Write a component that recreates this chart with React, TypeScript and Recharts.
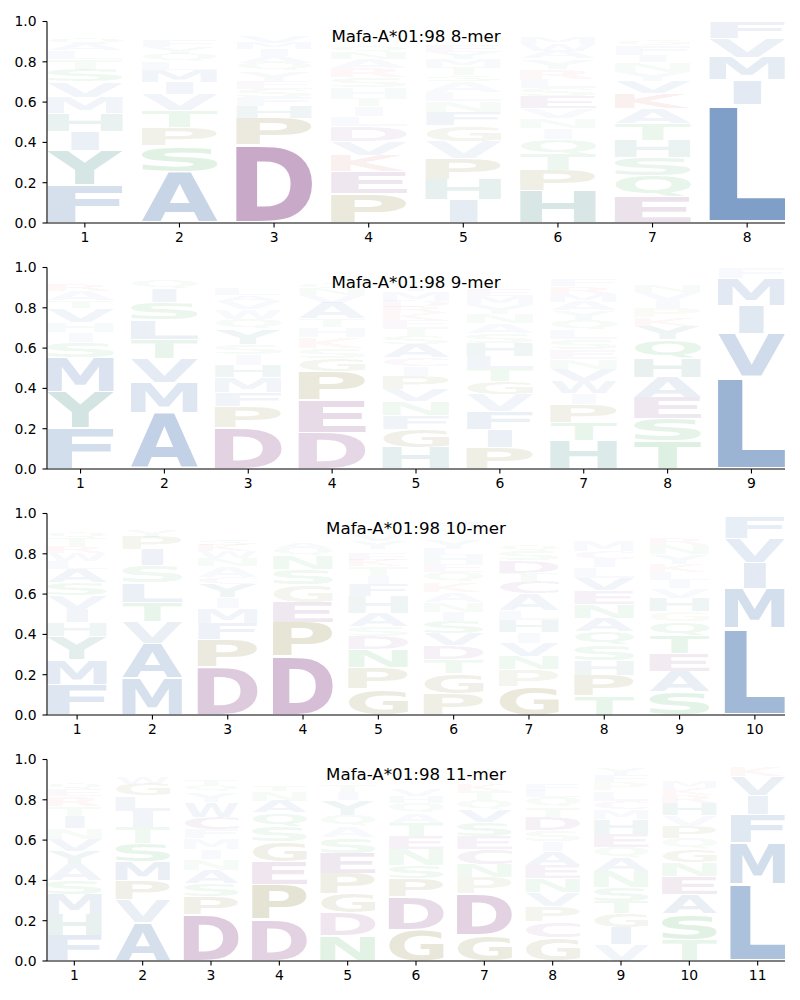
import React from 'react';
import { BarChart, Bar, XAxis, YAxis } from 'recharts';

type Entry = [string, number];

const titles = ['Mafa-A*01:98 8-mer', 'Mafa-A*01:98 9-mer', 'Mafa-A*01:98 10-mer', 'Mafa-A*01:98 11-mer'];
const positions8 = [1, 2, 3, 4, 5, 6, 7, 8];
const positions9 = [1, 2, 3, 4, 5, 6, 7, 8, 9];
const positions10 = [1, 2, 3, 4, 5, 6, 7, 8, 9, 10];
const positions11 = [1, 2, 3, 4, 5, 6, 7, 8, 9, 10, 11];
const yTicks = [0, 0.2, 0.4, 0.6, 0.8, 1.0];

// letter stacks per position, bottom to top: [letter, height]
const logo8: Entry[][] = [
  [['F', .19], ['Y', .17], ['I', .095], ['H', .09], ['M', .08], ['V', .075], ['S', .06], ['T', .055], ['L', .04], ['A', .035], ['Q', .03], ['N', .025], ['E', .02], ['P', .015], ['R', .01], ['G', .01]],
  [['A', .255], ['S', .13], ['P', .09], ['T', .085], ['V', .08], ['I', .06], ['M', .06], ['L', .04], ['Q', .04], ['Y', .035], ['F', .03], ['E', .02], ['G', .02], ['N', .015], ['H', .015], ['K', .015], ['R', .01]],
  [['D', .385], ['P', .135], ['H', .06], ['F', .045], ['S', .04], ['E', .04], ['Y', .05], ['Q', .04], ['A', .035], ['I', .035], ['M', .03], ['V', .03], ['W', .025], ['K', .02], ['T', .02], ['G', .01]],
  [['P', .145], ['E', .11], ['K', .08], ['V', .07], ['D', .075], ['L', .05], ['I', .05], ['T', .04], ['H', .055], ['S', .05], ['R', .045], ['A', .045], ['N', .035], ['Q', .03], ['G', .025], ['Y', .02], ['F', .025], ['W', .02], ['M', .015], ['C', .015]],
  [['I', .115], ['H', .10], ['P', .105], ['V', .085], ['G', .08], ['F', .065], ['N', .055], ['L', .045], ['A', .055], ['S', .03], ['T', .04], ['M', .04], ['Y', .035], ['E', .03], ['Q', .025], ['D', .02], ['W', .02], ['C', .02], ['R', .015], ['K', .02]],
  [['H', .16], ['P', .10], ['T', .08], ['Q', .075], ['I', .055], ['N', .05], ['V', .05], ['E', .06], ['S', .04], ['L', .045], ['R', .05], ['Y', .05], ['A', .04], ['W', .035], ['M', .03], ['G', .025], ['D', .02], ['F', .02], ['C', .015]],
  [['E', .13], ['Q', .105], ['S', .09], ['H', .085], ['T', .085], ['A', .075], ['K', .075], ['V', .06], ['Y', .045], ['N', .05], ['I', .035], ['F', .045], ['G', .03], ['P', .025], ['D', .025], ['R', .02], ['L', .02]],
  [['L', .585], ['I', .125], ['M', .112], ['V', .095], ['F', .083]],
];

const logo9: Entry[][] = [
  [['F', .205], ['Y', .18], ['M', .17], ['S', .075], ['I', .05], ['H', .05], ['V', .07], ['T', .035], ['A', .05], ['R', .03], ['K', .025], ['E', .02], ['L', .02], ['Q', .01], ['N', .01]],
  [['A', .28], ['M', .15], ['V', .12], ['T', .095], ['L', .095], ['S', .085], ['I', .07], ['Q', .045], ['Y', .025], ['F', .02], ['P', .015]],
  [['D', .205], ['P', .105], ['F', .07], ['M', .075], ['H', .06], ['I', .055], ['S', .05], ['Y', .075], ['Q', .05], ['W', .05], ['V', .04], ['A', .03], ['L', .03], ['E', .025], ['K', .02], ['T', .015], ['G', .015], ['N', .01], ['R', .01], ['C', .01]],
  [['D', .18], ['E', .16], ['P', .145], ['G', .065], ['S', .05], ['K', .055], ['H', .05], ['T', .04], ['A', .08], ['V', .04], ['N', .03], ['Q', .03], ['R', .02], ['L', .015], ['F', .015], ['M', .015], ['Y', .01]],
  [['H', .105], ['G', .09], ['F', .07], ['N', .07], ['V', .06], ['P', .065], ['I', .05], ['C', .045], ['A', .065], ['S', .04], ['T', .04], ['E', .04], ['K', .035], ['R', .03], ['D', .03], ['M', .045], ['Y', .04], ['Q', .03], ['W', .025], ['L', .025]],
  [['P', .105], ['I', .09], ['F', .09], ['V', .085], ['G', .065], ['T', .065], ['L', .06], ['H', .065], ['S', .05], ['A', .05], ['N', .045], ['Y', .045], ['M', .045], ['E', .03], ['Q', .025], ['R', .02], ['K', .02], ['D', .02], ['W', .015], ['C', .01]],
  [['H', .14], ['T', .09], ['P', .09], ['I', .055], ['W', .06], ['V', .06], ['N', .05], ['E', .05], ['S', .05], ['L', .045], ['Q', .05], ['Y', .045], ['A', .045], ['M', .04], ['R', .035], ['F', .03], ['G', .02], ['K', .015], ['D', .015], ['C', .015]],
  [['T', .14], ['S', .11], ['E', .105], ['A', .10], ['H', .095], ['Q', .095], ['Y', .065], ['K', .04], ['P', .05], ['I', .04], ['V', .04], ['N', .03], ['R', .02], ['F', .02], ['G', .015], ['L', .015], ['D', .01], ['M', .01]],
  [['L', .455], ['V', .215], ['I', .14], ['M', .135], ['F', .055]],
];

const logo10: Entry[][] = [
  [['F', .15], ['M', .125], ['Y', .115], ['H', .07], ['I', .065], ['V', .07], ['S', .06], ['A', .07], ['L', .04], ['W', .04], ['R', .035], ['T', .04], ['Q', .03], ['E', .025], ['P', .02], ['K', .02], ['G', .015], ['D', .01]],
  [['M', .18], ['A', .175], ['V', .11], ['T', .095], ['L', .095], ['S', .085], ['I', .08], ['P', .065], ['Y', .03], ['Q', .025], ['F', .02], ['G', .015], ['E', .01], ['N', .01]],
  [['D', .24], ['P', .135], ['F', .08], ['M', .075], ['I', .055], ['Y', .065], ['C', .035], ['A', .055], ['N', .04], ['W', .035], ['K', .03], ['S', .03], ['E', .025], ['H', .02], ['L', .02], ['T', .015], ['V', .015], ['Q', .01], ['G', .01], ['R', .01]],
  [['D', .29], ['P', .17], ['E', .10], ['G', .085], ['S', .08], ['N', .065], ['Q', .04], ['A', .03], ['K', .025], ['T', .02], ['R', .02], ['V', .02], ['L', .015], ['H', .01], ['M', .01], ['Y', .01]],
  [['G', .13], ['P', .105], ['N', .09], ['D', .065], ['S', .05], ['A', .065], ['H', .085], ['F', .06], ['I', .04], ['T', .05], ['K', .03], ['E', .03], ['Q', .025], ['Y', .04], ['V', .03], ['W', .02], ['C', .02], ['L', .02], ['R', .015], ['M', .01]],
  [['P', .105], ['G', .10], ['T', .07], ['D', .07], ['V', .06], ['S', .06], ['I', .045], ['N', .05], ['A', .05], ['K', .05], ['Q', .05], ['E', .04], ['H', .045], ['L', .03], ['Y', .045], ['F', .025], ['C', .025], ['M', .03], ['W', .025], ['R', .02]],
  [['G', .14], ['P', .085], ['N', .065], ['V', .065], ['I', .055], ['H', .06], ['L', .05], ['A', .085], ['C', .06], ['T', .04], ['D', .06], ['S', .05], ['Q', .03], ['E', .025], ['R', .025], ['M', .02], ['Y', .02], ['F', .02], ['W', .02], ['K', .015]],
  [['T', .095], ['P', .10], ['H', .075], ['S', .08], ['Q', .065], ['A', .065], ['N', .07], ['E', .07], ['V', .06], ['L', .055], ['I', .04], ['C', .04], ['M', .055], ['Y', .025], ['K', .02], ['R', .02], ['D', .02], ['F', .015], ['G', .015], ['W', .01]],
  [['S', .115], ['A', .10], ['E', .09], ['T', .09], ['Q', .07], ['G', .05], ['H', .065], ['V', .05], ['I', .04], ['L', .04], ['K', .04], ['Y', .05], ['N', .045], ['R', .03], ['P', .025], ['M', .02], ['D', .02], ['F', .02], ['C', .02], ['W', .015]],
  [['L', .43], ['M', .195], ['I', .13], ['V', .12], ['F', .105]],
];

const logo11: Entry[][] = [
  [['F', .125], ['H', .105], ['M', .10], ['S', .07], ['A', .08], ['Y', .065], ['V', .06], ['N', .055], ['I', .06], ['T', .05], ['R', .05], ['E', .035], ['Q', .03], ['L', .025], ['P', .02], ['D', .015], ['K', .015], ['W', .015], ['C', .015], ['G', .01]],
  [['A', .19], ['V', .115], ['P', .095], ['M', .095], ['S', .09], ['T', .08], ['I', .08], ['L', .075], ['G', .06], ['W', .03], ['Y', .025], ['F', .02], ['Q', .015], ['E', .01], ['K', .01], ['R', .01]],
  [['D', .23], ['P', .09], ['S', .065], ['A', .065], ['N', .055], ['I', .05], ['M', .055], ['F', .045], ['C', .06], ['W', .075], ['Y', .05], ['Q', .035], ['T', .03], ['E', .025], ['K', .025], ['L', .02], ['H', .015], ['G', .01]],
  [['D', .205], ['P', .175], ['E', .115], ['G', .10], ['S', .075], ['Q', .065], ['A', .06], ['N', .05], ['T', .03], ['K', .025], ['V', .02], ['R', .015], ['M', .015], ['Y', .015], ['I', .015], ['L', .01], ['H', .01]],
  [['N', .125], ['D', .115], ['G', .095], ['P', .10], ['E', .10], ['S', .08], ['A', .055], ['Q', .055], ['Y', .075], ['I', .04], ['T', .035], ['K', .025], ['V', .02], ['R', .02], ['H', .015], ['L', .015], ['M', .01], ['F', .01], ['W', .01]],
  [['G', .155], ['D', .165], ['P', .09], ['S', .065], ['N', .08], ['E', .065], ['T', .065], ['A', .05], ['Q', .05], ['H', .035], ['V', .03], ['K', .025], ['I', .025], ['L', .02], ['M', .02], ['Y', .015], ['F', .015], ['R', .01], ['C', .01], ['W', .01]],
  [['G', .13], ['D', .205], ['P', .08], ['N', .065], ['C', .075], ['E', .065], ['S', .07], ['V', .06], ['Q', .05], ['T', .045], ['K', .035], ['A', .025], ['L', .02], ['R', .02], ['H', .015], ['I', .015], ['Y', .015], ['M', .01]],
  [['G', .115], ['C', .08], ['P', .075], ['V', .07], ['N', .07], ['E', .065], ['A', .07], ['I', .05], ['S', .055], ['D', .065], ['T', .05], ['Q', .05], ['L', .03], ['F', .03], ['H', .025], ['M', .02], ['K', .02], ['R', .02], ['Y', .015], ['W', .015]],
  [['V', .08], ['I', .085], ['G', .07], ['T', .06], ['S', .07], ['N', .08], ['A', .065], ['Q', .055], ['E', .065], ['H', .075], ['M', .05], ['C', .04], ['L', .05], ['P', .04], ['F', .035], ['Y', .03], ['D', .025], ['K', .02]],
  [['T', .105], ['S', .13], ['A', .095], ['E', .09], ['N', .07], ['G', .065], ['Q', .055], ['P', .06], ['V', .055], ['H', .06], ['R', .04], ['K', .035], ['M', .03], ['L', .025], ['Y', .02], ['I', .02], ['D', .015], ['F', .015], ['W', .01]],
  [['L', .38], ['M', .205], ['F', .14], ['I', .095], ['V', .095], ['K', .05], ['R', .025]],
];

const panels = [
  { title: titles[0], logo: logo8, positions: positions8 },
  { title: titles[1], logo: logo9, positions: positions9 },
  { title: titles[2], logo: logo10, positions: positions10 },
  { title: titles[3], logo: logo11, positions: positions11 },
];

const BLUE = [36, 91, 161];
const PURPLE = [112, 34, 112];
const RED = [200, 20, 20];
const OLIVE = [110, 100, 10];
const GREEN = [20, 150, 50];
const TEAL = [10, 105, 100];
const letterColor: Record<string, number[]> = {
  A: BLUE, V: BLUE, L: BLUE, I: BLUE, M: BLUE, F: BLUE, W: BLUE,
  D: PURPLE, E: PURPLE, C: PURPLE,
  K: RED, R: RED,
  P: OLIVE, G: OLIVE,
  S: GREEN, T: GREEN, N: GREEN, Q: GREEN,
  H: TEAL, Y: TEAL,
};

type Metric = { l: number; r: number; a: number; d: number };
const metricCache: Record<string, Metric> = {};
function measure(ch: string): Metric {
  if (metricCache[ch]) return metricCache[ch];
  let res: Metric = { l: -5, r: 70, a: 73, d: 0 };
  try {
    const c = document.createElement('canvas');
    const ctx = c.getContext('2d');
    if (ctx) {
      ctx.font = 'bold 100px "DejaVu Sans"';
      const m = ctx.measureText(ch);
      if (m.actualBoundingBoxRight + m.actualBoundingBoxLeft > 1) {
        res = { l: m.actualBoundingBoxLeft, r: m.actualBoundingBoxRight, a: m.actualBoundingBoxAscent, d: m.actualBoundingBoxDescent };
      }
    }
  } catch (e) {
    // keep default
  }
  metricCache[ch] = res;
  return res;
}

function makeShape(k: number) {
  return (props: any) => {
    const { x, y, width, height, payload } = props;
    const ch: string = payload ? payload['l' + k] : '';
    const v: number = payload ? payload['v' + k] : 0;
    const h = Math.abs(height || 0);
    if (!ch || !h || !width) return <g />;
    const top = height < 0 ? y + height : y;
    const m = measure(ch);
    const e = measure('E');
    const inkW = m.l + m.r;
    const inkH = m.a + m.d;
    const eW = e.l + e.r;
    const pad = h * 0.025;
    const gh = h - 2 * pad;
    const sx = Math.min(width / inkW, width / eW);
    const gw = inkW * sx;
    const gx = x + (width - gw) / 2;
    const sy = gh / inkH;
    const col = letterColor[ch] || BLUE;
    return (
      <g transform={`translate(${gx + m.l * sx}, ${top + pad + m.a * sy}) scale(${sx}, ${sy})`}>
        <text x={0} y={0} fontSize={100} fontFamily="DejaVu Sans" fontWeight="bold"
          fill={`rgb(${col[0]},${col[1]},${col[2]})`} fillOpacity={Math.min(1, v)}>{ch}</text>
      </g>
    );
  };
}

const tickStyle = { fontSize: 13.9, fill: '#000', fontFamily: 'DejaVu Sans' };

function Panel({ logo, positions, title, top }: { logo: Entry[][]; positions: number[]; title: string; top: number }) {
  const n = positions.length;
  const depth = Math.max(...logo.map((c) => c.length));
  const rows = logo.map((col, i) => {
    const r: Record<string, any> = { pos: positions[i] };
    for (let k = 0; k < depth; k++) {
      r['v' + k] = col[k] ? col[k][1] : 0;
      r['l' + k] = col[k] ? col[k][0] : '';
    }
    return r;
  });
  const bars = [];
  for (let k = 0; k < depth; k++) {
    bars.push(
      <Bar key={k} dataKey={'v' + k} stackId="s" isAnimationActive={false} shape={makeShape(k)} />
    );
  }
  return (
    <div style={{ position: 'absolute', left: 0, top, width: 800, height: 246 }}>
      <BarChart width={800} height={246} data={rows} margin={{ top: 21.5, right: 15, bottom: 0, left: 0 }} barCategoryGap="10%">
        <XAxis dataKey="pos" type="number" domain={[0.6, n + 0.4]} ticks={positions} allowDataOverflow
          height={23} tickSize={4.5} tickMargin={4.5} interval={0}
          tick={tickStyle} axisLine={{ stroke: '#000', strokeWidth: 1.1 }} tickLine={{ stroke: '#000', strokeWidth: 1.1 }} />
        <YAxis type="number" domain={[0, 1]} ticks={yTicks} allowDataOverflow width={47}
          tickSize={4.5} tickMargin={6} interval={0} tickFormatter={(v: number) => v.toFixed(1)}
          tick={tickStyle} axisLine={{ stroke: '#000', strokeWidth: 1.1 }} tickLine={{ stroke: '#000', strokeWidth: 1.1 }} />
        {bars}
      </BarChart>
      <svg width={800} height={60} style={{ position: 'absolute', left: 0, top: 0, pointerEvents: 'none' }}>
        <text x={416} y={42.3} textAnchor="middle" fontFamily="DejaVu Sans" fontSize={16.67} fill="#000">{title}</text>
      </svg>
    </div>
  );
}

export default function App() {
  const tops = [0, 246, 492, 738];
  return (
    <div style={{ position: 'absolute', left: 0, top: 0, width: 800, height: 1000, background: '#fff' }}>
      {panels.map((p, i) => (
        <Panel key={i} logo={p.logo} positions={p.positions} title={p.title} top={tops[i]} />
      ))}
    </div>
  );
}
